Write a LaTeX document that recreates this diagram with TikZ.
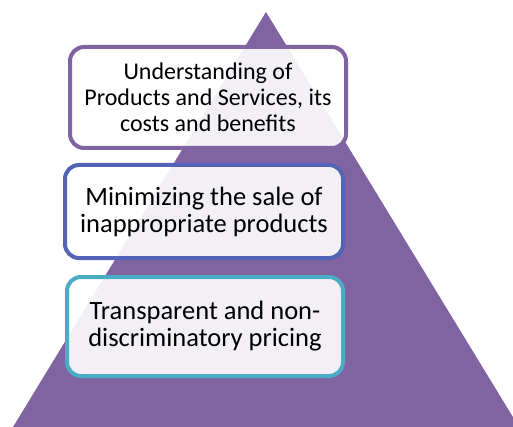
\documentclass[tikz,border=0pt]{standalone}
\usepackage{fontspec}
\setmainfont{Carlito}
\definecolor{pyramid}{HTML}{8064A2}
\definecolor{midblue}{HTML}{5363B8}
\definecolor{aqua}{HTML}{4BACC6}

\begin{document}
\begin{tikzpicture}[x=1pt,y=-1pt,
    level/.style={draw, line width=4pt, rounded corners=14pt, fill=white,
        fill opacity=0.9, text opacity=1, align=center, inner sep=0pt}]

    \useasboundingbox (0,0) rectangle (513,427);

    % pyramid
    \fill[pyramid] (266,12) -- (519,427) -- (13,427) -- cycle;

    % levels, top to bottom
    \node[level, draw=pyramid, minimum width=276pt, minimum height=101pt,
        font=\fontsize{24}{26}\selectfont] (costs) at (208,97.5)
        {Understanding of\\Products and Services, its\\costs and benefits};
    \node[level, draw=midblue, minimum width=278pt, minimum height=93pt,
        font=\fontsize{26.5}{27}\selectfont] (sale) at (204,211.5)
        {Minimizing the sale of\\inappropriate products};
    \node[level, draw=aqua, minimum width=276pt, minimum height=99pt,
        font=\fontsize{26.5}{27}\selectfont] (pricing) at (205,326.5)
        {Transparent and non-\\discriminatory pricing};

\end{tikzpicture}
\end{document}
